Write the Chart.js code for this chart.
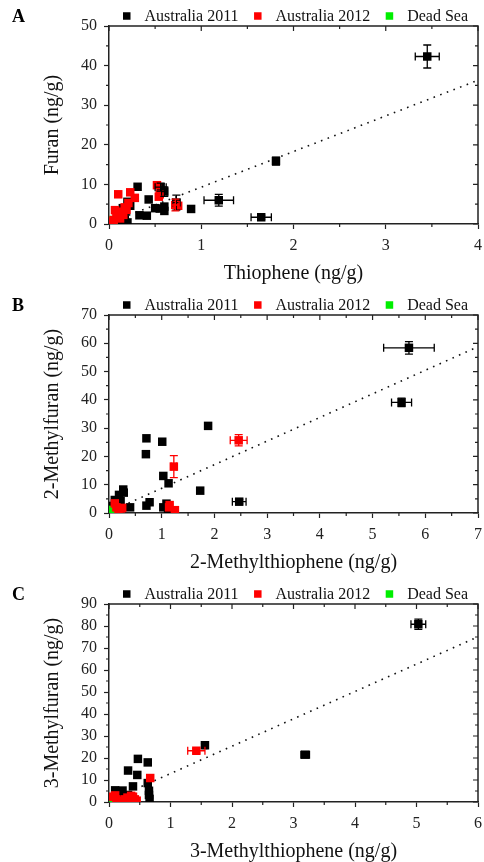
<!DOCTYPE html>
<html>
<head>
<meta charset="utf-8">
<script src="https://cdn.jsdelivr.net/npm/chart.js@4.4.0/dist/chart.umd.min.js"></script>
<style>
  body { margin: 0; background: #fff; overflow: hidden; }
  canvas { display: block; }
</style>
</head>
<body>
<canvas id="chartA" width="484" height="289"></canvas>
<canvas id="chartB" width="484" height="289"></canvas>
<canvas id="chartC" width="484" height="289"></canvas>
<script>
// ---- Panel A: thiophene vs furan ----
const thioph2011 = [3.45, 1.81, 1.19, 1.65, 0.89, 0.73, 0.56, 0.60, 0.60, 0.60, 0.50, 0.55, 0.43, 0.41, 0.33, 0.31, 0.20, 0.23, 0.17, 0.15, 0.17, 0.12, 0.08, 0.05, 0.10, 0.20];
const furan2011  = [42.3, 15.9, 6.0, 1.7, 3.8, 5.4, 9.3, 8.2, 4.4, 3.3, 4.0, 3.9, 6.2, 2.1, 2.2, 9.4, 5.6, 4.6, 1.0, 4.0, 2.0, 0.6, 0.4, 0.8, 1.5, 0.4];
const furanErr2011 = [[0, 0.13, 2.9], [1, 0.03, 1.0], [2, 0.16, 1.5], [3, 0.11, 0.5], [5, 0.04, 1.9], [6, 0.06, 1.0], [7, 0.03, 1.2]];
const thioph2012 = [0.52, 0.54, 0.72, 0.10, 0.23, 0.28, 0.21, 0.17, 0.14, 0.065, 0.08, 0.05, 0.12, 0.02, 0.155, 0.19, 0.55, 0.75];
const furan2012  = [9.8, 6.9, 4.8, 7.5, 8.0, 6.6, 5.3, 4.2, 3.1, 3.5, 2.0, 1.0, 1.4, 0.6, 2.3, 3.6, 7.5, 4.6];
const furanErr2012 = [[2, 0.04, 1.5]];
const thiophDS = [0.05];
const furanDS  = [1.0];
const furanFit = [[0, 0.3], [4, 36.3]];

// ---- Panel B: 2-methylthiophene vs 2-methylfuran ----
const mthioph2_2011 = [5.69, 5.55, 2.47, 1.88, 1.73, 0.71, 0.70, 1.01, 1.03, 1.13, 1.03, 1.09, 1.12, 0.77, 0.71, 0.40, 0.27, 0.19, 0.22, 0.11, 0.05, 0.18, 0.28, 0.10];
const mfuran2_2011  = [58.4, 39.1, 4.0, 30.8, 7.9, 26.4, 20.8, 25.2, 13.1, 10.5, 2.0, 3.3, 0.9, 3.8, 2.6, 2.0, 8.3, 6.4, 4.2, 4.6, 2.5, 1.6, 7.2, 1.0];
const mfuran2Err2011 = [[0, 0.48, 2.2], [1, 0.19, 1.5], [2, 0.13, 0.8]];
const mthioph2_2012 = [2.46, 1.23, 1.14, 1.15, 1.25, 0.11, 0.22, 0.14, 0.18, 0.25];
const mfuran2_2012  = [25.7, 16.4, 2.0, 2.8, 1.0, 3.4, 1.6, 2.0, 1.2, 1.8];
const mfuran2Err2012 = [[0, 0.16, 2.0], [1, 0.05, 3.9]];
const mthioph2DS = [0.06];
const mfuran2DS  = [1.1];
const mfuran2Fit = [[0, 0.4], [7, 58.8]];

// ---- Panel C: 3-methylthiophene vs 3-methylfuran ----
const mthioph3_2011 = [5.03, 3.19, 1.56, 0.47, 0.63, 0.31, 0.46, 0.63, 0.39, 0.65, 0.65, 0.66, 0.10, 0.22, 0.18, 0.31, 0.25];
const mfuran3_2011  = [80.8, 21.5, 25.8, 19.6, 18.0, 14.3, 12.3, 8.6, 7.1, 5.1, 3.2, 1.4, 5.3, 5.2, 3.9, 3.2, 2.5];
const mfuran3Err2011 = [[0, 0.12, 2.3], [1, 0.07, 0.6], [2, 0.03, 0.8]];
const mthioph3_2012 = [1.42, 0.67, 0.04, 0.12, 0.26, 0.39, 0.42, 0.45, 0.34, 0.20, 0.10, 0.30, 0.36];
const mfuran3_2012  = [23.3, 10.9, 2.4, 1.2, 1.2, 2.4, 1.2, 0.6, 0.9, 0.6, 3.0, 2.0, 2.8];
const mfuran3Err2012 = [[0, 0.14, 1.0]];
const mthioph3DS = [0.06];
const mfuran3DS  = [0.7];
const mfuran3Fit = [[0, 0.5], [6, 75.1]];

const SERIF = "'Liberation Serif', 'Times New Roman', serif";
const INK = '#222';
const COLORS = { a2011: '#000000', a2012: '#ff0000', dead: '#00ee00' };

const toPoints = (xs, ys) => xs.map((x, i) => ({ x, y: ys[i] }));

// top/right frame, minor ticks and mirrored ticks (Origin style)
const framePlugin = {
  id: 'frame',
  afterDraw(chart) {
    const { ctx, chartArea: a, scales: { x, y } } = chart;
    const opts = chart.options.plugins.frame;
    ctx.save();
    ctx.strokeStyle = INK;
    ctx.lineWidth = 1.5;
    ctx.beginPath();
    ctx.moveTo(a.left, a.top);
    ctx.lineTo(a.right, a.top);
    ctx.lineTo(a.right, a.bottom);
    ctx.stroke();

    ctx.lineWidth = 1.2;
    const isMajor = (v, step) => Math.abs(v / step - Math.round(v / step)) < 1e-6;
    ctx.beginPath();
    for (let v = x.min; v <= x.max + 1e-9; v += opts.xStep / 2) {
      const px = x.getPixelForValue(v);
      const major = isMajor(v, opts.xStep);
      const len = major ? 5 : 3;
      if (!major) { ctx.moveTo(px, a.bottom); ctx.lineTo(px, a.bottom + len); }
      ctx.moveTo(px, a.top); ctx.lineTo(px, a.top + len);
    }
    for (let v = y.min; v <= y.max + 1e-9; v += opts.yStep / 2) {
      const py = y.getPixelForValue(v);
      const major = isMajor(v, opts.yStep);
      const len = major ? 5 : 3;
      if (!major) { ctx.moveTo(a.left, py); ctx.lineTo(a.left - len, py); }
      ctx.moveTo(a.right, py); ctx.lineTo(a.right - len, py);
    }
    ctx.stroke();
    ctx.restore();
  }
};

// error bars with caps, read from dataset.errors = [[index, dx, dy], ...]
const errorBarPlugin = {
  id: 'errorBars',
  afterDatasetsDraw(chart) {
    const { ctx, scales: { x, y } } = chart;
    ctx.save();
    ctx.lineWidth = 1.3;
    chart.data.datasets.forEach(ds => {
      if (!ds.errors) return;
      ctx.strokeStyle = ds.backgroundColor;
      ds.errors.forEach(([i, dx, dy]) => {
        const p = ds.data[i];
        const cx = x.getPixelForValue(p.x);
        const cy = y.getPixelForValue(p.y);
        const x0 = x.getPixelForValue(p.x - dx), x1 = x.getPixelForValue(p.x + dx);
        const y0 = y.getPixelForValue(p.y - dy), y1 = y.getPixelForValue(p.y + dy);
        const cap = 4;
        ctx.beginPath();
        ctx.moveTo(x0, cy); ctx.lineTo(x1, cy);
        ctx.moveTo(x0, cy - cap); ctx.lineTo(x0, cy + cap);
        ctx.moveTo(x1, cy - cap); ctx.lineTo(x1, cy + cap);
        ctx.moveTo(cx, y0); ctx.lineTo(cx, y1);
        ctx.moveTo(cx - cap, y0); ctx.lineTo(cx + cap, y0);
        ctx.moveTo(cx - cap, y1); ctx.lineTo(cx + cap, y1);
        ctx.stroke();
      });
    });
    ctx.restore();
  }
};

// legend row + panel letter
const headerPlugin = {
  id: 'header',
  afterDraw(chart) {
    const { ctx } = chart;
    const opts = chart.options.plugins.header;
    const items = chart.data.datasets.filter(d => d.inLegend);
    ctx.save();
    ctx.textBaseline = 'middle';
    ctx.font = `16px ${SERIF}`;
    let x = 123;
    const y = 16;
    items.forEach(d => {
      ctx.fillStyle = d.backgroundColor;
      ctx.fillRect(x, y - 3.75, 7.5, 7.5);
      x += 7.5 + 14;
      ctx.fillStyle = '#111';
      ctx.fillText(d.label, x, y + 1);
      x += ctx.measureText(d.label).width + 15.5;
    });
    ctx.font = `bold 18px ${SERIF}`;
    ctx.fillStyle = '#000';
    ctx.fillText(opts.letter, 12, y + 1);
    ctx.restore();
  }
};

function makePanel(canvasId, p) {
  const scatter = (label, color, xs, ys, errors, order) => ({
    label,
    data: toPoints(xs, ys),
    backgroundColor: color,
    borderWidth: 0,
    pointStyle: 'rect',
    pointRadius: 6,
    inLegend: true,
    errors,
    order
  });

  return new Chart(document.getElementById(canvasId), {
    type: 'scatter',
    data: {
      datasets: [
        {
          type: 'line',
          label: 'fit',
          data: p.fit.map(([x, y]) => ({ x, y })),
          borderColor: '#111',
          borderWidth: 1.6,
          borderDash: [1.6, 5.5],
          pointRadius: 0,
          fill: false,
          order: 4
        },
        scatter('Australia 2011', COLORS.a2011, p.x2011, p.y2011, p.err2011, 3),
        scatter('Australia 2012', COLORS.a2012, p.x2012, p.y2012, p.err2012, 2),
        scatter('Dead Sea', COLORS.dead, p.xDS, p.yDS, null, 2.5)
      ]
    },
    options: {
      responsive: false,
      animation: false,
      events: [],
      layout: { padding: { top: 26, right: 4, left: 0, bottom: 0 } },
      plugins: {
        legend: { display: false },
        tooltip: { enabled: false },
        header: { letter: p.letter },
        frame: { xStep: 1, yStep: p.yStep }
      },
      scales: {
        x: {
          type: 'linear',
          min: 0,
          max: p.xMax,
          afterFit: s => { s.height = 65; s.paddingLeft = 0; s.paddingRight = 0; },
          ticks: { stepSize: 1, autoSkip: false, color: INK, padding: 7, font: { family: SERIF, size: 16 } },
          grid: { drawOnChartArea: false, drawTicks: true, tickLength: 5, tickColor: INK, tickWidth: 1.2 },
          border: { display: true, color: INK, width: 1.5 },
          title: {
            display: true,
            text: p.xTitle,
            color: '#111',
            font: { family: SERIF, size: 20, lineHeight: 1.2 },
            padding: { top: 0, bottom: 3 }
          }
        },
        y: {
          type: 'linear',
          min: 0,
          max: p.yMax,
          afterFit: s => { s.width = 109; },
          ticks: { stepSize: p.yStep, autoSkip: false, color: INK, padding: 7, font: { family: SERIF, size: 16 } },
          grid: { drawOnChartArea: false, drawTicks: true, tickLength: 5, tickColor: INK, tickWidth: 1.2 },
          border: { display: true, color: INK, width: 1.5 },
          title: {
            display: true,
            text: p.yTitle,
            color: '#111',
            font: { family: SERIF, size: 20, lineHeight: 1.2 },
            padding: { top: 41, bottom: 0 }
          }
        }
      }
    },
    plugins: [framePlugin, errorBarPlugin, headerPlugin]
  });
}

makePanel('chartA', {
  letter: 'A', xTitle: 'Thiophene (ng/g)', yTitle: 'Furan (ng/g)',
  xMax: 4, yMax: 50, yStep: 10,
  x2011: thioph2011, y2011: furan2011, err2011: furanErr2011,
  x2012: thioph2012, y2012: furan2012, err2012: furanErr2012,
  xDS: thiophDS, yDS: furanDS, fit: furanFit
});

makePanel('chartB', {
  letter: 'B', xTitle: '2-Methylthiophene (ng/g)', yTitle: '2-Methylfuran (ng/g)',
  xMax: 7, yMax: 70, yStep: 10,
  x2011: mthioph2_2011, y2011: mfuran2_2011, err2011: mfuran2Err2011,
  x2012: mthioph2_2012, y2012: mfuran2_2012, err2012: mfuran2Err2012,
  xDS: mthioph2DS, yDS: mfuran2DS, fit: mfuran2Fit
});

makePanel('chartC', {
  letter: 'C', xTitle: '3-Methylthiophene (ng/g)', yTitle: '3-Methylfuran (ng/g)',
  xMax: 6, yMax: 90, yStep: 10,
  x2011: mthioph3_2011, y2011: mfuran3_2011, err2011: mfuran3Err2011,
  x2012: mthioph3_2012, y2012: mfuran3_2012, err2012: mfuran3Err2012,
  xDS: mthioph3DS, yDS: mfuran3DS, fit: mfuran3Fit
});
</script>
</body>
</html>
